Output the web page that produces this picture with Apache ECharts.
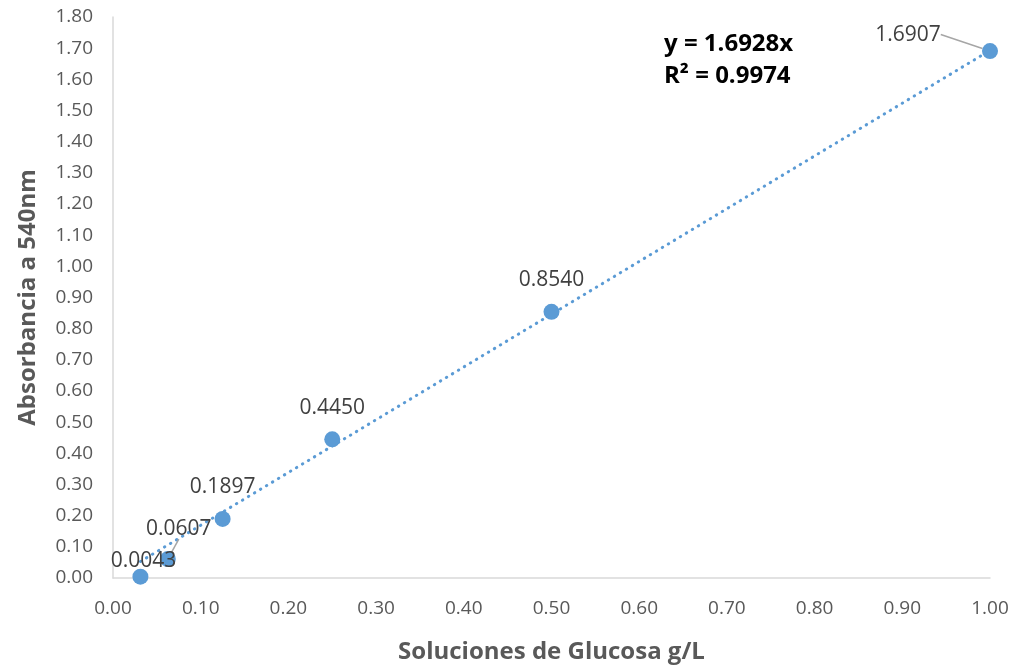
<!DOCTYPE html>
<html><head><meta charset="utf-8">
<script src="https://cdn.jsdelivr.net/npm/echarts@6/dist/echarts.min.js"></script>
<style>html,body{margin:0;padding:0;background:#fff}#c{width:1016px;height:671px}</style>
</head><body><div id="c"></div>
<script>
var concentrations = [0.03125, 0.0625, 0.125, 0.25, 0.5, 1.0];
var absorbances = [0.0043, 0.0607, 0.1897, 0.4450, 0.8540, 1.6907];
var slope = 1.6928;
var r2 = 0.9974;
var xTitle = 'Soluciones de Glucosa g/L';
var yTitle = 'Absorbancia a 540nm';

var FONT = 'Open Sans';
var labelMoves = { 0: [3, 16, false], 1: [11, 1, true], 5: [-82, 15, true] };

var pts = concentrations.map(function (x, i) {
  var item = { value: [x, absorbances[i]] };
  if (labelMoves[i] && labelMoves[i][2]) item.labelLine = { show: true };
  return item;
});
var xMin = Math.min.apply(null, concentrations), xMax = Math.max.apply(null, concentrations);
var trend = [[xMin, slope * xMin], [xMax, slope * xMax]];

var chart = echarts.init(document.getElementById('c'));
chart.setOption({
  animation: false,
  grid: { left: 113, right: 26, top: 17, bottom: 93, containLabel: false, outerBoundsMode: 'none' },
  xAxis: {
    type: 'value', min: 0, max: 1, interval: 0.1,
    name: xTitle, nameLocation: 'middle', nameGap: 62,
    nameTextStyle: { fontFamily: FONT, fontWeight: 'bold', fontSize: 24, color: '#595959' },
    axisLine: { show: true, lineStyle: { color: '#d9d9d9', width: 1.5 } },
    axisTick: { show: false }, splitLine: { show: false },
    axisLabel: { fontFamily: FONT, fontSize: 19, color: '#595959', margin: 21,
      formatter: function (v) { return v.toFixed(2); } }
  },
  yAxis: {
    type: 'value', min: 0, max: 1.8, interval: 0.1,
    name: yTitle, nameLocation: 'middle', nameGap: 73,
    nameTextStyle: { fontFamily: FONT, fontWeight: 'bold', fontSize: 24, color: '#595959' },
    axisLine: { show: true, lineStyle: { color: '#d9d9d9', width: 1.5 } },
    axisTick: { show: false }, splitLine: { show: false },
    axisLabel: { fontFamily: FONT, fontSize: 19, color: '#595959', margin: 20,
      formatter: function (v) { return v.toFixed(2); } }
  },
  series: [
    {
      type: 'line', data: trend, symbol: 'none', silent: true, z: 1,
      lineStyle: { color: '#5B9BD5', width: 3, type: [0.5, 6.5], cap: 'round' }
    },
    {
      type: 'scatter', data: pts, symbolSize: 16, z: 2,
      itemStyle: { color: '#5B9BD5', opacity: 1 },
      label: {
        show: true, position: 'top', distance: 13,
        fontFamily: FONT, fontSize: 21, color: '#404040',
        formatter: function (p) { return p.value[1].toFixed(4); }
      },
      labelLine: { lineStyle: { color: '#a6a6a6', width: 1.5 } },
      labelLayout: function (p) {
        var m = labelMoves[p.dataIndex];
        return m ? { dx: m[0], dy: m[1] } : {};
      }
    }
  ],
  graphic: [
    { type: 'text', left: 664, top: 32, style: { text: 'y = ' + slope.toFixed(4) + 'x', fontFamily: FONT, fontWeight: 'bold', fontSize: 24, fill: '#000' } },
    { type: 'text', left: 664, top: 64, style: { text: 'R² = ' + r2.toFixed(4), fontFamily: FONT, fontWeight: 'bold', fontSize: 24, fill: '#000' } }
  ]
});
</script></body></html>
